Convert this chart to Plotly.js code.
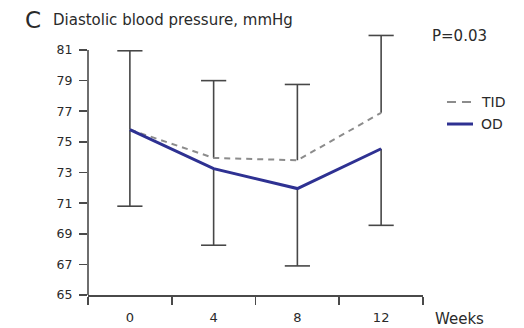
<!DOCTYPE html>
<html>
<head>
<meta charset="utf-8">
<script src="https://cdn.plot.ly/plotly-3.0.1.min.js"></script>
<style>
  html, body { margin: 0; padding: 0; background: #fff; }
  #chart { width: 524px; height: 328px; }
</style>
</head>
<body>
<div id="chart"></div>
<script>
// ---- data ----
var weeks = ['0', '4', '8', '12'];
var tidMean = [75.8, 73.95, 73.8, 76.9];
var tidErrUp = [5.15, 5.05, 4.95, 5.05];
var odMean = [75.8, 73.25, 71.95, 74.55];
var odErrDown = [5.0, 5.0, 5.05, 5.0];
var yTicks = [65, 67, 69, 71, 73, 75, 77, 79, 81];
var seriesNames = ['TID', 'OD'];

var FONT = 'DejaVu Sans, Arial, sans-serif';
var TEXT = '#2a2a2a';
var AXIS = '#4a4a4a';
var ERR = '#474747';
var BLUE = '#2e3192';
var GRAY = '#8c8c8c';

// error whiskers built from the data arrays (upper for TID, lower for OD)
var barX = [], barY = [], capX = [], capY = [];
weeks.forEach(function (w, i) {
  barX.push(w, w, null); barY.push(tidMean[i], tidMean[i] + tidErrUp[i], null);
  barX.push(w, w, null); barY.push(odMean[i], odMean[i] - odErrDown[i], null);
  capX.push(w, w); capY.push(tidMean[i] + tidErrUp[i], odMean[i] - odErrDown[i]);
});

var traces = [
  { x: barX, y: barY, type: 'scatter', mode: 'lines', connectgaps: false,
    line: { color: ERR, width: 1.6 }, showlegend: false, hoverinfo: 'skip' },
  { x: capX, y: capY, type: 'scatter', mode: 'markers', cliponaxis: false,
    marker: { symbol: 'line-ew', size: 18, line: { color: ERR, width: 1.6 } },
    showlegend: false, hoverinfo: 'skip' },
  { x: weeks, y: tidMean, name: seriesNames[0], type: 'scatter', mode: 'lines',
    line: { color: GRAY, width: 2, dash: '6px,5px' }, showlegend: false, hoverinfo: 'skip' },
  { x: weeks, y: odMean, name: seriesNames[1], type: 'scatter', mode: 'lines',
    line: { color: BLUE, width: 3 }, showlegend: false, hoverinfo: 'skip' }
];

var layout = {
  width: 524, height: 328,
  margin: { l: 88, r: 101, t: 31, b: 33, pad: 0 },
  paper_bgcolor: '#fff', plot_bgcolor: '#fff',
  font: { family: FONT, size: 13, color: TEXT },
  showlegend: false,
  xaxis: {
    type: 'category', categoryorder: 'array', categoryarray: weeks,
    range: [-0.5, 3.5], tickson: 'boundaries',
    showgrid: false, zeroline: false, showline: true, linecolor: AXIS, linewidth: 1.6,
    ticks: 'outside', ticklen: 8, tickwidth: 1.6, tickcolor: AXIS,
    ticklabelstandoff: 10,
    tickfont: { family: FONT, size: 13, color: TEXT },
    fixedrange: true
  },
  yaxis: {
    range: [65, 82.241], tickvals: yTicks, ticktext: yTicks.map(String),
    showgrid: false, zeroline: false, showline: false,
    ticks: 'outside', ticklen: 8, tickwidth: 1.6, tickcolor: AXIS,
    ticklabelstandoff: 4,
    tickfont: { family: FONT, size: 12.5, color: TEXT },
    fixedrange: true
  },
  shapes: [
    // y axis line (ends at 81 like the reference)
    { type: 'line', xref: 'paper', yref: 'y', x0: 0, x1: 0, y0: 65, y1: 81,
      line: { color: AXIS, width: 1.6 } },
    // legend samples
    { type: 'line', xref: 'paper', yref: 'paper', x0: 1.0716, x1: 1.1433, y0: 0.7311, y1: 0.7311,
      line: { color: GRAY, width: 2, dash: '9px,6px' } },
    { type: 'line', xref: 'paper', yref: 'paper', x0: 1.0716, x1: 1.1493, y0: 0.6477, y1: 0.6477,
      line: { color: BLUE, width: 3 } }
  ],
  annotations: [
    { text: 'C', xref: 'paper', yref: 'paper', x: -0.194, y: 1.0417, xanchor: 'left', yanchor: 'middle',
      showarrow: false, font: { family: FONT, size: 23, color: TEXT } },
    { text: 'Diastolic blood pressure, mmHg', xref: 'paper', yref: 'paper', x: -0.110, y: 1.0417,
      xanchor: 'left', yanchor: 'middle', showarrow: false, font: { family: FONT, size: 15, color: TEXT } },
    { text: 'P=0.03', xref: 'paper', yref: 'paper', x: 1.109, y: 0.9822, xanchor: 'center', yanchor: 'middle',
      showarrow: false, font: { family: FONT, size: 15, color: TEXT } },
    { text: 'Weeks', xref: 'paper', yref: 'paper', x: 1.109, y: -0.0909, xanchor: 'center', yanchor: 'middle',
      showarrow: false, font: { family: FONT, size: 15, color: TEXT } },
    { text: seriesNames[0], xref: 'paper', yref: 'paper', x: 1.167, y: 0.7311, xanchor: 'left', yanchor: 'middle',
      showarrow: false, font: { family: FONT, size: 14, color: TEXT } },
    { text: seriesNames[1], xref: 'paper', yref: 'paper', x: 1.167, y: 0.6477, xanchor: 'left', yanchor: 'middle',
      showarrow: false, font: { family: FONT, size: 14, color: TEXT } }
  ]
};

Plotly.newPlot('chart', traces, layout, { displayModeBar: false, staticPlot: true });
</script>
</body>
</html>
